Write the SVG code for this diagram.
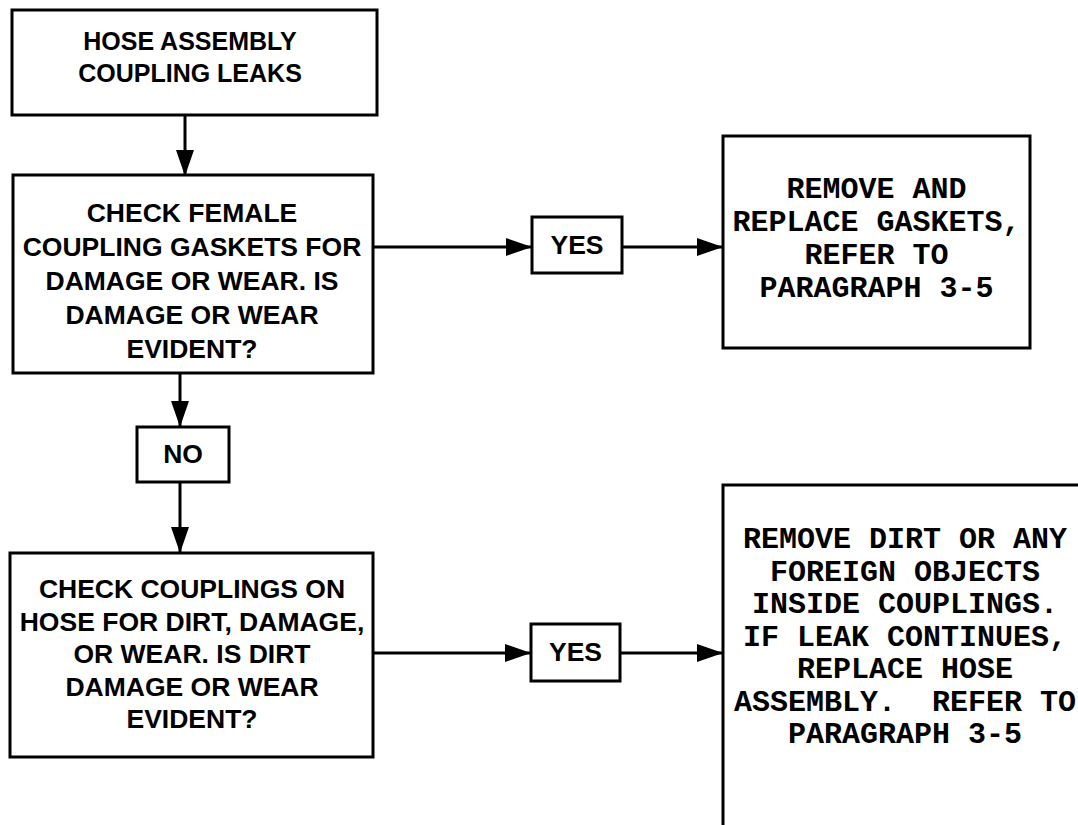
<svg xmlns="http://www.w3.org/2000/svg" width="1078" height="825" viewBox="0 0 1078 825">
<defs>
<marker id="ah" markerUnits="userSpaceOnUse" markerWidth="26" markerHeight="18" refX="25" refY="9" orient="auto">
<path d="M0,0 L26,9 L0,18 z" fill="#000"/>
</marker>
<style>
.box{fill:#fff;stroke:#000;stroke-width:3}
.s{font-family:"Liberation Sans",Arial,sans-serif;font-weight:bold;font-size:26.5px;text-anchor:middle;fill:#000}
.m{font-family:"Liberation Mono","Courier New",monospace;font-weight:bold;font-size:30px;text-anchor:middle;fill:#000}
.c{stroke:#000;stroke-width:3;fill:none;marker-end:url(#ah)}
</style>
</defs>
<rect width="1078" height="825" fill="#fff"/>
<g id="connectors">
<line class="c" x1="185" y1="115" x2="185" y2="175"/>
<line class="c" x1="180" y1="373" x2="180" y2="426"/>
<line class="c" x1="180" y1="482" x2="180" y2="552"/>
<line class="c" x1="373" y1="247" x2="531" y2="247"/>
<line class="c" x1="622" y1="247" x2="722" y2="247"/>
<line class="c" x1="373" y1="653" x2="530" y2="653"/>
<line class="c" x1="620" y1="653" x2="722" y2="653"/>
</g>
<g id="start">
<rect class="box" x="12" y="10" width="365" height="105"/>
<text class="s" style="font-size:25px" x="190" y="50">HOSE ASSEMBLY</text>
<text class="s" style="font-size:25px" x="190" y="82">COUPLING LEAKS</text>
</g>
<g id="check-gaskets">
<rect class="box" x="13" y="175" width="360" height="198"/>
<text class="s" x="192" y="222">CHECK FEMALE</text>
<text class="s" x="192" y="256">COUPLING GASKETS FOR</text>
<text class="s" x="192" y="290">DAMAGE OR WEAR. IS</text>
<text class="s" x="192" y="324">DAMAGE OR WEAR</text>
<text class="s" x="192" y="358">EVIDENT?</text>
</g>
<g id="yes1">
<rect class="box" x="532" y="217" width="90" height="56"/>
<text class="s" x="577" y="254">YES</text>
</g>
<g id="replace-gaskets">
<rect class="box" x="723" y="136" width="307" height="212"/>
<text class="m" x="876.5" y="198">REMOVE AND</text>
<text class="m" x="876.5" y="231">REPLACE GASKETS,</text>
<text class="m" x="876.5" y="264">REFER TO</text>
<text class="m" x="876.5" y="297">PARAGRAPH 3-5</text>
</g>
<g id="no">
<rect class="box" x="137" y="427" width="92" height="55"/>
<text class="s" x="183" y="463">NO</text>
</g>
<g id="check-couplings">
<rect class="box" x="10" y="553" width="363" height="204"/>
<text class="s" x="192" y="598">CHECK COUPLINGS ON</text>
<text class="s" x="192" y="630.5">HOSE FOR DIRT, DAMAGE,</text>
<text class="s" x="192" y="663">OR WEAR. IS DIRT</text>
<text class="s" x="192" y="695.5">DAMAGE OR WEAR</text>
<text class="s" x="192" y="728">EVIDENT?</text>
</g>
<g id="yes2">
<rect class="box" x="531" y="624" width="89" height="57"/>
<text class="s" x="575.5" y="661">YES</text>
</g>
<g id="remove-dirt">
<path d="M723,826 V485 H1090" fill="none" stroke="#000" stroke-width="3"/>
<text class="m" x="905" y="548">REMOVE DIRT OR ANY</text>
<text class="m" x="905" y="580.5">FOREIGN OBJECTS</text>
<text class="m" x="905" y="613">INSIDE COUPLINGS.</text>
<text class="m" x="905" y="645.5">IF LEAK CONTINUES,</text>
<text class="m" x="905" y="678">REPLACE HOSE</text>
<text class="m" x="905" y="710.5" xml:space="preserve">ASSEMBLY.  REFER TO</text>
<text class="m" x="905" y="743">PARAGRAPH 3-5</text>
</g>
</svg>
